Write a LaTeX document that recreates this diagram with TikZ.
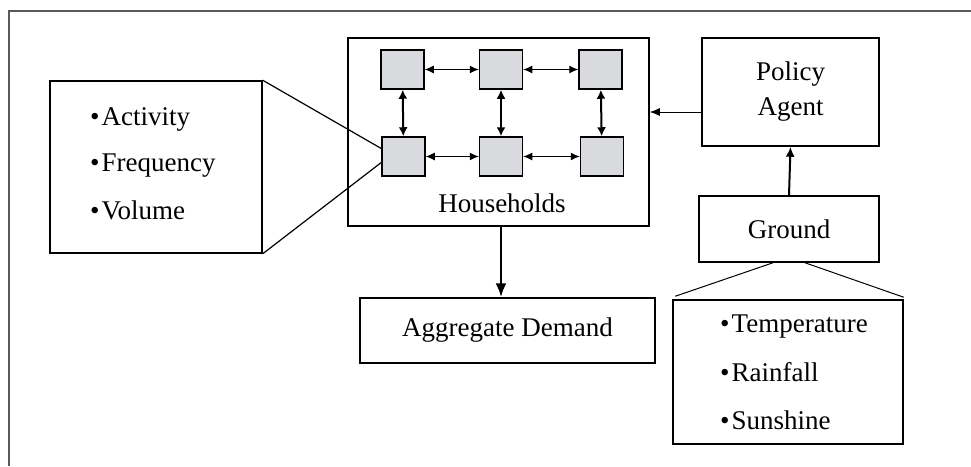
\documentclass[tikz,border=0pt]{standalone}
\usepackage{fontspec}
\setmainfont{Liberation Serif}
\usetikzlibrary{arrows.meta,calc}
\definecolor{sqgray}{RGB}{216,218,222}
\definecolor{framegray}{RGB}{90,90,90}
\newcommand{\bul}{•\kern2pt}
\begin{document}
\begin{tikzpicture}[x=1pt,y=-1pt,
  font=\fontsize{27}{33}\selectfont,
  box/.style={draw,line width=1.5pt,inner sep=0pt},
  sq/.style={draw,line width=1.5pt,fill=sqgray,minimum width=43pt,minimum height=39pt,inner sep=0pt},
  item/.style={anchor=base west,inner sep=0pt},
  dbl/.style={{Latex[length=9pt,width=8pt]}-{Latex[length=9pt,width=8pt]},line width=1pt},
  dblv/.style={{Latex[length=9pt,width=9pt]}-{Latex[length=9pt,width=9pt]},line width=2pt}]
\useasboundingbox (0,0) rectangle (971,466);
% frame
\draw[framegray,line width=2pt] (9,466) -- (9,11) -- (971,11);
% boxes
\node[box,minimum width=212pt,minimum height=172pt] (attr) at (156,167) {};
\node[box,minimum width=301pt,minimum height=188pt] (hh) at (498.5,132) {};
\node[box,minimum width=177pt,minimum height=108pt,align=center,font=\fontsize{27}{35}\selectfont] (pol) at (790.5,92) {Policy\\Agent};
\node[box,minimum width=180pt,minimum height=66pt] (gr) at (789,229) {Ground};
\node[box,minimum width=295pt,minimum height=65pt] (agg) at (507.5,330.5) {Aggregate Demand};
\node[box,minimum width=230pt,minimum height=144pt] (wx) at (788,372) {};
% squares
\node[sq] (h1) at (402.5,69.5) {};
\node[sq] (h2) at (501,69.5) {};
\node[sq] (h3) at (600.5,69.5) {};
\node[sq] (h4) at (403.5,156.5) {};
\node[sq] (h5) at (501,156.5) {};
\node[sq] (h6) at (602,156.5) {};
\node[anchor=base,inner sep=0pt] (hlab) at (502,212) {Households};
% list items
\node[item] (a1) at (90,125) {\bul Activity};
\node[item] (a2) at (90,171) {\bul Frequency};
\node[item] (a3) at (90,219) {\bul Volume};
\node[item] (w1) at (720,332) {\bul Temperature};
\node[item] (w2) at (720,381) {\bul Rainfall};
\node[item] (w3) at (720,429) {\bul Sunshine};
% square arrows
\draw[dbl] (h1) -- (h2);
\draw[dbl] (h2) -- (h3);
\draw[dbl] (h4) -- (h5);
\draw[dbl] (h5) -- (h6);
\draw[dblv] (h1) -- (h4);
\draw[dblv] (h2) -- (h5);
\draw[dblv] (h3) -- (h6);
% main arrows
\draw[-{Latex[length=10pt,width=8pt]},line width=1pt] (pol.west |- 0,112) -- (hh.east |- 0,112);
\draw[-{Latex[length=10pt,width=9pt]},line width=2pt] (gr.north) -- (pol.south);
\draw[-{Latex[length=14pt,width=11pt]},line width=2.5pt] (hh.south -| 501,0) -- (agg.north -| 501,0);
% zoom lines
\draw[line width=1.2pt] (attr.north east) -- ($(h4.west)+(0,-8)$);
\draw[line width=1.2pt] (attr.south east) -- ($(h4.west)+(0,6)$);
\draw[line width=1pt] ($(gr.south)+(-16,0)$) -- ($(wx.north west)+(3,-3)$);
\draw[line width=1pt] ($(gr.south)+(16,0)$) -- ($(wx.north east)+(0,-2)$);
\end{tikzpicture}
\end{document}
